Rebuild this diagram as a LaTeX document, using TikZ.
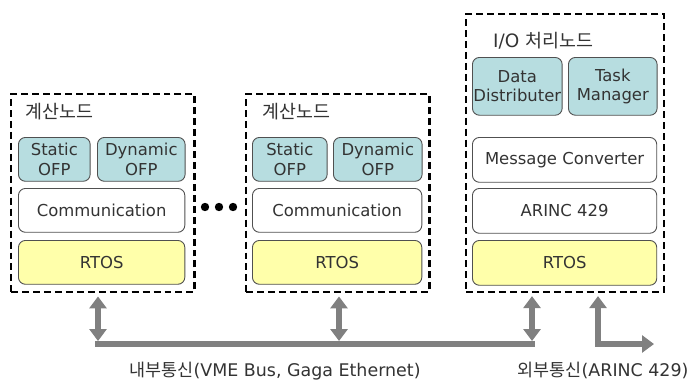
\documentclass[tikz,border=0pt]{standalone}
\usepackage{fontspec}
\setmainfont{DejaVu Sans}
\newfontfamily\kor{Noto Sans CJK KR}
\usetikzlibrary{arrows.meta}
\definecolor{ofpblue}{RGB}{183,221,224}
\definecolor{rtosyellow}{RGB}{255,255,170}
\definecolor{busgray}{RGB}{128,128,128}
\definecolor{randgrau}{RGB}{80,80,80}
\def\s{0.0352778}
\def\punkt#1#2{({(#1)*\s},{(380-(#2))*\s})}
\def\feld#1#2#3#4#5#6#7{\node[#2,anchor=north west,minimum width={(#5-#3)*1pt},minimum height={(#6-#4)*1pt}] (#1) at \punkt{#3}{#4} {#7};}

\begin{document}
\begin{tikzpicture}[
	knoten/.style={draw=black,line width=2.2pt,dash pattern=on 7pt off 4pt,inner sep=0pt},
	schicht/.style={draw=randgrau,line width=0.9pt,rounded corners=7pt,inner sep=1pt,align=center,text=black!80,font=\fontsize{16.5}{19.5}\selectfont},
	ofp/.style={schicht,fill=ofpblue},
	leer/.style={schicht,fill=white},
	rtos/.style={schicht,fill=rtosyellow},
	titel/.style={anchor=west,inner sep=0pt,text=black!80,font=\fontsize{18.5}{21}\selectfont},
	busarrow/.style={draw=busgray,line width=6pt,{Triangle[width=17pt,length=12pt]}-{Triangle[width=17pt,length=12pt]}},
	unten/.style={anchor=base,inner sep=0pt,text=black!80,font=\fontsize{17.5}{20}\selectfont}]
\useasboundingbox \punkt{0}{0} rectangle \punkt{692}{380};
\fill[white] \punkt{0}{0} rectangle \punkt{692}{380};

\feld{lnode}{knoten}{10}{93}{194}{292}{}
\feld{mnode}{knoten}{245}{93}{429}{292}{}
\feld{rnode}{knoten}{465}{13}{664}{292}{}

\node[titel] (ltitel) at \punkt{25}{112} {\kor 계산노드};
\node[titel] (mtitel) at \punkt{262}{112} {\kor 계산노드};
\node[titel] (rtitel) at \punkt{493}{41} {I/O {\kor 처리노드}};

\feld{lstatic}{ofp}{18}{137}{90}{181}{Static\\OFP}
\feld{ldynamic}{ofp}{97}{137}{185}{181}{Dynamic\\OFP}
\feld{lcomm}{leer}{18}{188}{185}{232}{Communication}
\feld{lrtos}{rtos}{18}{240}{185}{284}{RTOS}

\feld{mstatic}{ofp}{252}{137}{327}{181}{Static\\OFP}
\feld{mdynamic}{ofp}{333}{137}{422}{181}{Dynamic\\OFP}
\feld{mcomm}{leer}{252}{188}{422}{232}{Communication}
\feld{mrtos}{rtos}{252}{240}{422}{284}{RTOS}

\feld{rdata}{ofp}{472}{57}{562}{115}{Data\\Distributer}
\feld{rtask}{ofp}{568}{57}{657}{115}{Task\\Manager}
\feld{rmsg}{leer}{472}{137}{657}{182}{Message Converter}
\feld{rarinc}{leer}{472}{188}{657}{233}{ARINC 429}
\feld{rrtos}{rtos}{472}{240}{657}{285}{RTOS}

\foreach \x in {205,219,233}{
	\fill \punkt{\x}{207} circle (4.2pt);
}

\path \punkt{98}{344} coordinate (bus1);
\path \punkt{339}{344} coordinate (bus2);
\path \punkt{532}{344} coordinate (bus3);
\path \punkt{598}{344} coordinate (ext);
\path \punkt{654}{344} coordinate (extend);

\draw[busgray,line width=6pt] ([xshift=-3pt]bus1) -- ([xshift=3pt]bus3);
\draw[busarrow,shorten <=3pt,shorten >=3pt] (lnode.south -| bus1) -- (bus1);
\draw[busarrow,shorten <=3pt,shorten >=3pt] (mnode.south -| bus2) -- (bus2);
\draw[busarrow,shorten <=3pt,shorten >=3pt] (rnode.south -| bus3) -- (bus3);
\draw[busarrow,shorten <=3pt] (rnode.south -| ext) |- (extend);

\node[unten] (intern) at \punkt{275}{376} {{\kor 내부통신}(VME Bus, Gaga Ethernet)};
\node[unten] (extern) at \punkt{603}{376} {{\kor 외부통신}(ARINC 429)};
\end{tikzpicture}
\end{document}
